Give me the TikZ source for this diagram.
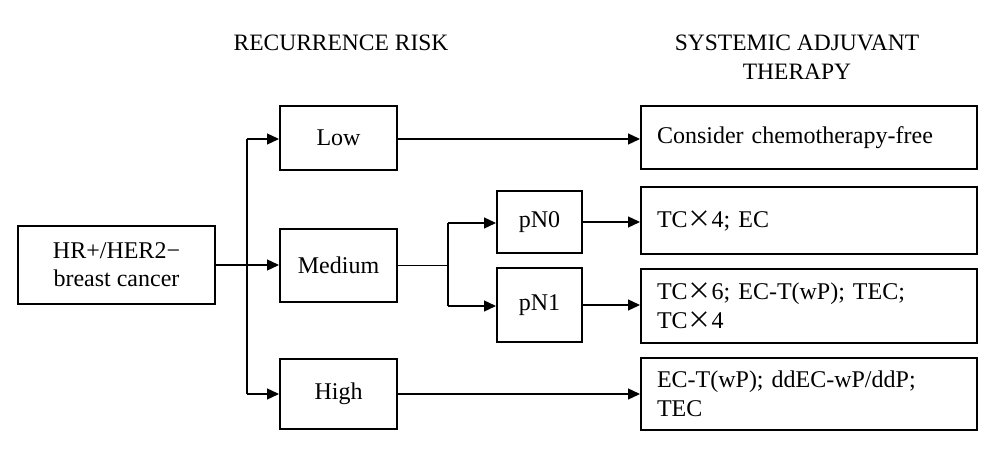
\documentclass[tikz,border=0pt]{standalone}
\usepackage{fontspec}
\setmainfont{Liberation Serif}
\newfontfamily\cjk{Noto Sans CJK SC}
\usetikzlibrary{arrows.meta}
\newcommand{\tms}{{\cjk ×}}
\begin{document}
\begin{tikzpicture}[x=1pt,y=-1pt,
  box/.style={draw,line width=2pt,inner sep=0pt,align=center,font=\fontsize{24}{28}\selectfont},
  rbox/.style={draw,line width=2pt,minimum width=336pt,text width=304pt,inner xsep=16pt,inner ysep=0pt,align=left,font=\fontsize{24}{29}\selectfont},
  conn/.style={line width=1.3pt},
  arr/.style={conn,-{Triangle[length=12pt,width=11pt]}},
  head/.style={align=center,font=\fontsize{23.5}{29}\selectfont}]
\useasboundingbox (0,0) rectangle (1001,454);
% headings
\node[head] (h1) at (341,43) {RECURRENCE RISK};
\node[head] (h2) at (797,57) {SYSTEMIC ADJUVANT\\THERAPY};
% boxes
\node[box,minimum width=197pt,minimum height=78pt] (src) at (116.5,265) {HR+/HER2−\\breast cancer};
\node[box,minimum width=117pt,minimum height=64pt] (low) at (338.5,138) {Low};
\node[box,minimum width=117pt,minimum height=73pt] (med) at (338.5,265.5) {Medium};
\node[box,minimum width=117pt,minimum height=70pt] (high) at (338.5,394) {High};
\node[box,minimum width=85pt,minimum height=62pt] (pn0) at (539.5,222) {pN0};
\node[box,minimum width=85pt,minimum height=74pt] (pn1) at (539.5,305) {pN1};
\node[rbox,minimum height=63pt] (r1) at (809,137.5) {Consider chemotherapy-free};
\node[rbox,minimum height=67pt] (r2) at (809,220.5) {TC\tms 4; EC};
\node[rbox,minimum height=74pt] (r3) at (809,306) {TC\tms 6; EC-T(wP); TEC;\\TC\tms 4};
\node[rbox,minimum height=72pt] (r4) at (809,394) {EC-T(wP); ddEC-wP/ddP;\\TEC};
% connectors
\coordinate (vt) at (247,139);
\coordinate (vb) at (247,394);
\coordinate (sp) at (448,265.5);
\coordinate (st) at (448,223);
\coordinate (sb) at (448,306);
\draw[conn] (vt) -- (vb);
\draw[arr] (src.east) -- (med.west |- src.east);
\draw[arr] (vt) -- (low.west |- vt);
\draw[arr] (vb) -- (high.west |- vb);
\draw[conn] (med.east) -- (sp);
\draw[conn] (st) -- (sb);
\draw[arr] (st) -- (pn0.west |- st);
\draw[arr] (sb) -- (pn1.west |- sb);
\draw[arr] (low.east |- vt) -- (r1.west |- vt);
\draw[arr] (pn0.east) -- (r2.west |- pn0.east);
\draw[arr] (pn1.east) -- (r3.west |- pn1.east);
\draw[arr] (high.east |- vb) -- (r4.west |- vb);
\end{tikzpicture}
\end{document}
